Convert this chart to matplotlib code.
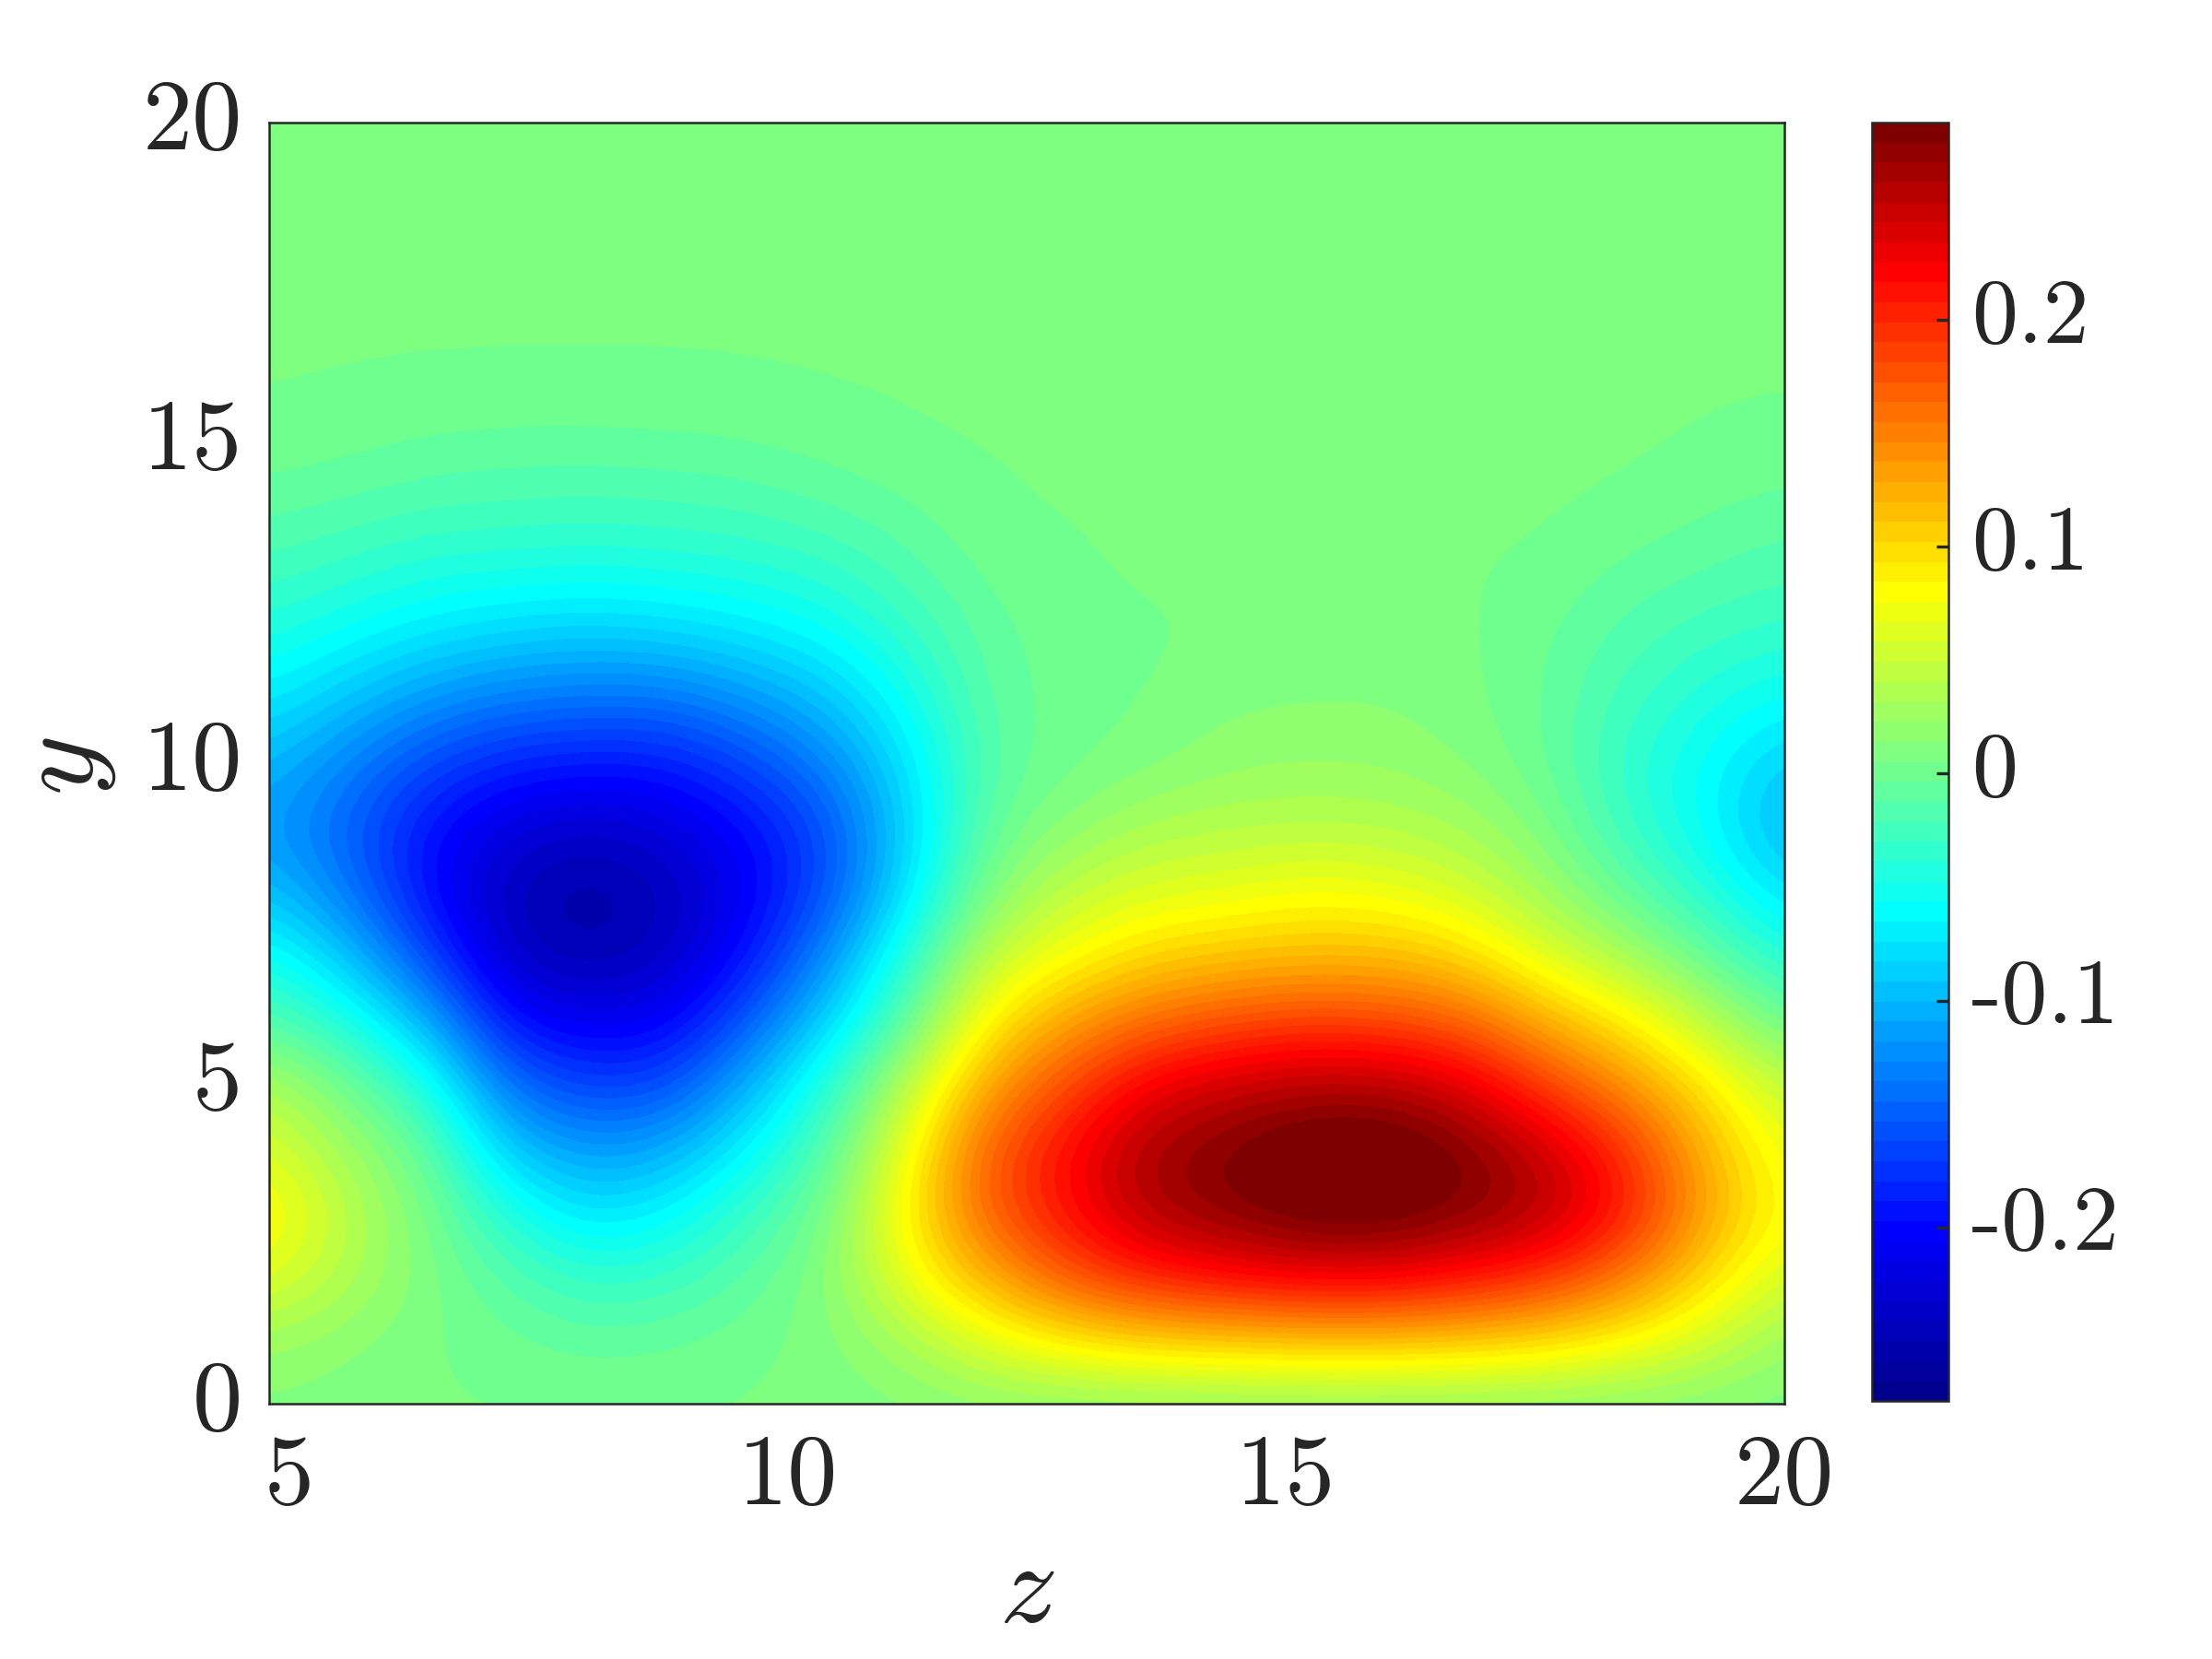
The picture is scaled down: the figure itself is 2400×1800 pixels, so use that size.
import numpy as np
import matplotlib
matplotlib.use("Agg")
import matplotlib.pyplot as plt
from matplotlib.colors import LinearSegmentedColormap
from matplotlib.transforms import ScaledTranslation

plt.rcParams['font.family'] = ['cmr10', 'DejaVu Sans']
plt.rcParams['axes.formatter.use_mathtext'] = True
plt.rcParams['mathtext.fontset'] = 'cm'

z_values = [4.8, 5.6, 6.4, 7.2, 8.0, 8.8, 9.6, 10.4, 11.2, 12.0,
            12.8, 13.6, 14.4, 15.2, 16.0, 16.8, 17.6, 18.4, 19.2, 20.0]
y_values = list(range(21))

# one list per z column, y = 0..16, above that it is flat
col_48 = [.005, .02, .06, .08, .055, .03, -.02, -.055, -.10, -.12, -.105, -.075, -.05, -.03, -.015, -.003, 0]
col_56 = [.002, .01, .03, .035, .02, -.005, -.05, -.10, -.14, -.155, -.135, -.10, -.065, -.04, -.02, -.006, -.0005]
col_64 = [0, 0, .003, 0, -.01, -.05, -.11, -.17, -.205, -.2, -.17, -.125, -.08, -.05, -.026, -.01, -.001]
col_72 = [0, -.006, -.02, -.05, -.10, -.15, -.205, -.245, -.25, -.23, -.19, -.14, -.09, -.052, -.028, -.012, -.0012]
col_80 = [0, -.0135, -.041, -.085, -.125, -.175, -.22, -.258, -.268, -.24, -.197, -.145, -.095, -.055, -.03, -.012, -.0012]
col_88 = [0, -.01, -.035, -.07, -.115, -.17, -.215, -.245, -.25, -.23, -.195, -.145, -.09, -.052, -.028, -.011, -.0012]
col_96 = [0, -.004, -.015, -.035, -.07, -.11, -.16, -.2, -.215, -.205, -.17, -.125, -.08, -.048, -.025, -.009, -.0008]
col_104 = [.002, .004, .005, -.002, -.02, -.045, -.09, -.13, -.165, -.165, -.135, -.10, -.065, -.04, -.018, -.005, 0]
col_112 = [.005, .025, .065, .08, .065, .035, -.015, -.045, -.08, -.09, -.08, -.06, -.04, -.022, -.01, -.001, 0]
col_120 = [.01, .06, .12, .165, .165, .125, .08, .04, .005, -.01, -.018, -.015, -.012, -.006, -.0015, 0, 0]
col_128 = [.01, .085, .17, .21, .21, .175, .125, .07, .04, .01, -.003, -.005, -.005, -.002, 0, 0, 0]
col_136 = [.01, .10, .2, .255, .26, .22, .155, .095, .055, .028, .004, -.001, -.002, .001, 0, 0, 0]
col_144 = [.01, .105, .215, .272, .276, .24, .17, .105, .06, .032, .014, .006, 0, 0, 0, 0, 0]
col_152 = [.01, .11, .225, .29, .297, .25, .18, .11, .07, .035, .016, .008, 0, 0, 0, 0, 0]
col_160 = [.01, .11, .225, .29, .297, .25, .175, .11, .065, .033, .015, .008, 0, 0, 0, 0, 0]
col_168 = [.01, .105, .21, .275, .275, .23, .16, .095, .05, .024, .008, .002, .002, 0, 0, 0, 0]
col_176 = [.01, .095, .19, .255, .24, .18, .115, .055, .02, .003, -.008, -.009, -.008, -.002, .001, 0, 0]
col_184 = [.008, .075, .15, .205, .19, .135, .08, .025, -.012, -.035, -.04, -.032, -.022, -.012, -.002, .001, 0]
col_192 = [.005, .05, .095, .125, .115, .085, .035, -.01, -.045, -.065, -.065, -.05, -.033, -.018, -.008, -.001, 0]
col_200 = [.003, .015, .05, .07, .06, .035, -.01, -.05, -.085, -.11, -.095, -.065, -.04, -.025, -.013, -.003, 0]

columns = [col_48, col_56, col_64, col_72, col_80, col_88, col_96, col_104, col_112, col_120,
           col_128, col_136, col_144, col_152, col_160, col_168, col_176, col_184, col_192, col_200]
flat_rows = [0, 0, 0, 0]

x_ticks = [5, 10, 15, 20]
y_ticks = [0, 5, 10, 15, 20]
cbar_ticks = [-0.2, -0.1, 0, 0.1, 0.2]
cbar_labels = ['-0.2', '-0.1', '0', '0.1', '0.2']
c_min, c_max = -0.2765, 0.287

# background sits a little above zero in the reference
field = np.array([c + flat_rows for c in columns]).T + 0.006

# same rows as matlab jet(64)
jet_colors = [(0, (0, 0, .5625)), (8/63, (0, 0, 1)), (24/63, (0, 1, 1)),
              (40/63, (1, 1, 0)), (56/63, (1, 0, 0)), (1, (.5, 0, 0))]
jet64 = LinearSegmentedColormap.from_list('jet64', jet_colors, N=64)

dark = '#262626'
fig = plt.figure(figsize=(8, 6), dpi=300)
ax = fig.add_axes([292/2400, 277/1800, 1644/2400, 1390/1800])
dz = z_values[1] - z_values[0]
dy = y_values[1] - y_values[0]
im = ax.imshow(field, origin='lower', aspect='auto', cmap=jet64,
               vmin=c_min, vmax=c_max, interpolation='bicubic', interpolation_stage='data',
               extent=[z_values[0]-dz/2, z_values[-1]+dz/2, y_values[0]-dy/2, y_values[-1]+dy/2])
ax.set_xlim(z_values[0], z_values[-1])
ax.set_ylim(y_values[0], y_values[-1])
ax.set_xticks(x_ticks)
ax.set_xticklabels([str(t) for t in x_ticks])
ax.set_yticks(y_ticks)
ax.set_yticklabels([str(t) for t in y_ticks])
ax.tick_params(length=0, labelsize=26, colors=dark, pad=7)
ax.tick_params(axis='x', pad=8)
for s in ax.spines.values():
    s.set_color(dark)
    s.set_linewidth(0.6)
ax.set_xlabel('$z$', fontsize=30, color=dark)
ax.set_ylabel('$y$', fontsize=30, color=dark, rotation=90)
ax.xaxis.set_label_coords(0.5, -0.108)
ax.yaxis.set_label_coords(-0.0995, 0.498)

cax = fig.add_axes([2031/2400, 280/1800, 83/2400, 1387/1800])
cb = fig.colorbar(im, cax=cax)
cb.set_ticks(cbar_ticks)
cb.set_ticklabels(cbar_labels)
cb.ax.tick_params(direction='in', length=3.2, width=0.8, labelsize=24, colors=dark, pad=6)
cb.outline.set_edgecolor(dark)
cb.outline.set_linewidth(0.6)
cb.ax.spines['right'].set_linewidth(1.0)

# the labels sit a touch high in the reference
for lab in ax.get_yticklabels():
    lab.set_transform(lab.get_transform() + ScaledTranslation(0, 2.2/72, fig.dpi_scale_trans))
for lab in cb.ax.get_yticklabels():
    lab.set_transform(lab.get_transform() + ScaledTranslation(0, 2.5/72, fig.dpi_scale_trans))

fig.savefig('out.png', dpi=300)
